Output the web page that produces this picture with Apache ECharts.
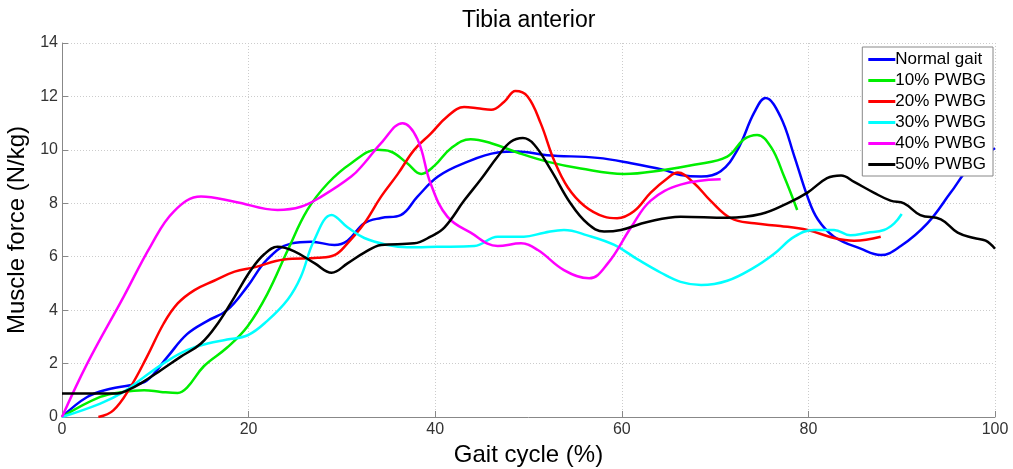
<!DOCTYPE html>
<html>
<head>
<meta charset="utf-8">
<script src="https://cdn.jsdelivr.net/npm/echarts@6/dist/echarts.min.js"></script>
<style>
  html, body { margin: 0; padding: 0; background: #fff; }
  #chart { width: 1013px; height: 469px; }
</style>
</head>
<body>
<div id="chart"></div>
<script>
// series names
const seriesNames = ['Normal gait', '10% PWBG', '20% PWBG', '30% PWBG', '40% PWBG', '50% PWBG']
const seriesColors = ['#0000ff', '#00ee00', '#ff0000', '#00ffff', '#ff00ff', '#000000']

// [gait cycle %, force N/kg]
const normalGait = [[0, 0], [2.7, 0.75], [5.2, 1.06], [7.3, 1.19], [9.1, 1.37], [11.3, 2.25], [13.4, 3.1],
  [15.6, 3.6], [17.7, 4.0], [19.9, 4.9], [22, 5.9], [24.6, 6.5], [26.7, 6.56], [29.2, 6.44], [30.6, 6.6],
  [32.4, 7.25], [34.2, 7.45], [36.3, 7.56], [38.1, 8.25], [40.3, 9.0], [43.1, 9.5], [46.7, 9.9], [48.8, 9.94],
  [52, 9.8], [57.4, 9.7], [61, 9.5], [64.5, 9.25], [66.3, 9.06], [68.5, 9.0], [70.6, 9.2], [72.4, 10],
  [74.2, 11.4], [75.4, 11.94], [77, 11.25], [78.5, 9.75], [79.9, 8.25], [81, 7.4], [82.75, 6.75], [85.6, 6.3],
  [87.75, 6.06], [89.9, 6.4], [92.75, 7.25], [95.25, 8.4], [97.4, 9.4], [100, 10.06]]

const pwbg10 = [[0, 0], [4.1, 0.75], [6.6, 0.94], [8.8, 1.0], [10.6, 0.94], [12.4, 0.9], [13.4, 1.1],
  [15.2, 1.9], [17.7, 2.6], [19.9, 3.4], [22, 4.6], [24.2, 6.25], [26.3, 7.75], [28.5, 8.75], [31, 9.5],
  [33.8, 10.0], [35.2, 9.94], [37, 9.5], [38.5, 9.1], [39.9, 9.4], [41.7, 10.06], [43.8, 10.4], [46, 10.25],
  [48.8, 9.9], [52, 9.56], [55.6, 9.3], [60.25, 9.1], [64.5, 9.25], [67.75, 9.44], [71.3, 9.75], [73.1, 10.4],
  [74.5, 10.56], [76, 10.1], [77.4, 9.0], [78.8, 7.75]]

const pwbg20 = [[3.9, 0], [5.5, 0.25], [7.3, 1.1], [9.1, 2.25], [10.9, 3.5], [12.4, 4.25], [14.2, 4.75],
  [16.3, 5.1], [18.5, 5.44], [20.6, 5.6], [23.8, 5.9], [27.4, 5.96], [29.2, 6.06], [30.6, 6.5], [32.4, 7.25],
  [34.2, 8.25], [36, 9.1], [37.75, 10.0], [39.5, 10.6], [41.3, 11.25], [43.1, 11.6], [44.5, 11.56], [46, 11.5],
  [47.4, 11.8], [48.6, 12.2], [49.9, 12.0], [51.3, 11.0], [52.75, 9.6], [54.2, 8.6], [56, 7.9], [58.1, 7.5],
  [59.5, 7.44], [61.3, 7.7], [63.1, 8.4], [64.9, 8.94], [66, 9.15], [67.75, 8.75], [69.5, 8.1], [71.7, 7.44],
  [74.2, 7.25], [77, 7.15], [79.9, 7.0], [82.75, 6.7], [84.9, 6.6], [87.75, 6.75]]

const pwbg30 = [[0, 0], [4.1, 0.5], [6.6, 0.94], [8.8, 1.5], [11.3, 2.1], [13.4, 2.5], [15.6, 2.75],
  [17.7, 2.9], [19.9, 3.06], [22, 3.6], [24.2, 4.4], [25.6, 5.25], [27, 6.6], [28.9, 7.56], [30.6, 7.1],
  [32.4, 6.7], [34.9, 6.44], [37, 6.35], [40.25, 6.37], [44.2, 6.4], [46.7, 6.75], [49.5, 6.75], [51.7, 6.9],
  [53.8, 7.0], [56.3, 6.8], [59.2, 6.44], [61.7, 5.9], [64.2, 5.4], [66.3, 5.06], [68.5, 4.94], [71.3, 5.1],
  [74.2, 5.6], [76.3, 6.1], [78.5, 6.75], [80.6, 7.0], [82.75, 7.0], [84.5, 6.8], [86.3, 6.9], [88.1, 7.0],
  [89.2, 7.25], [90, 7.6]]

const pwbg40 = [[0, 0], [2.7, 2], [6.6, 4.5], [9.5, 6.4], [12, 7.7], [14.9, 8.25], [18.5, 8.06], [23.1, 7.75],
  [25.6, 7.87], [27.8, 8.25], [31, 9.0], [32.4, 9.5], [34.2, 10.25], [36.5, 11.0], [38.1, 10.4], [39.5, 8.75],
  [41.3, 7.5], [43.8, 6.9], [46.7, 6.4], [49.2, 6.5], [51, 6.25], [53.8, 5.5], [56.5, 5.19], [58.5, 5.75],
  [61, 7.1], [63.1, 8.1], [66.3, 8.7], [70.6, 8.9]]

const pwbg50 = [[0, 0.88], [5.9, 0.88], [7, 1.0], [8.4, 1.25], [10.6, 1.75], [12.7, 2.25], [14.9, 2.75],
  [16.7, 3.5], [18.5, 4.5], [20.25, 5.5], [21.7, 6.1], [23.1, 6.37], [24.9, 6.2], [27.1, 5.75], [28.9, 5.4],
  [30.6, 5.75], [32.4, 6.15], [34.2, 6.44], [37.75, 6.5], [39.5, 6.75], [41, 7.1], [43.1, 8.1], [44.9, 8.9],
  [46.7, 9.75], [48.1, 10.3], [49.4, 10.44], [50.6, 10.2], [52.4, 9.25], [54.5, 8.0], [56.3, 7.25], [58.1, 6.94],
  [59.9, 7.0], [62.75, 7.3], [66.3, 7.5], [71.3, 7.46], [74.9, 7.6], [77.75, 8.0], [79.9, 8.4], [82, 8.94],
  [83.5, 9.04], [84.9, 8.8], [87, 8.4], [88.8, 8.1], [90.25, 8.0], [92, 7.56], [94.2, 7.4], [96, 6.9],
  [97.75, 6.7], [99, 6.6], [100, 6.3]]

const allData = [normalGait, pwbg10, pwbg20, pwbg30, pwbg40, pwbg50]

const font = 'Liberation Sans, Arial, sans-serif'
const chart = echarts.init(document.getElementById('chart'))

chart.setOption({
  backgroundColor: '#fff',
  animation: false,
  title: {
    text: 'Tibia anterior',
    left: 457,
    top: 4,
    textStyle: { fontFamily: font, fontSize: 23, fontWeight: 'normal', color: '#000' }
  },
  legend: {
    data: seriesNames,
    orient: 'vertical',
    right: 20,
    top: 47,
    padding: [4, 7, 3, 6],
    itemGap: 4,
    itemWidth: 27,
    itemHeight: 3,
    icon: 'rect',
    backgroundColor: '#fff',
    borderColor: '#888',
    borderWidth: 1,
    borderRadius: 0,
    textStyle: { fontFamily: font, fontSize: 17, lineHeight: 17, color: '#000', padding: [0, 0, 0, -5] }
  },
  grid: {
    left: 62,
    right: 18,
    top: 43,
    bottom: 52,
    outerBoundsMode: 'none'
  },
  xAxis: {
    type: 'value',
    min: 0,
    max: 100,
    interval: 20,
    name: 'Gait cycle (%)',
    nameLocation: 'middle',
    nameGap: 20,
    nameTextStyle: { fontFamily: font, fontSize: 24, color: '#000' },
    axisLine: { show: true, lineStyle: { color: '#888' } },
    axisTick: { show: true, inside: true, length: 6, lineStyle: { color: '#888' } },
    axisLabel: { fontFamily: font, fontSize: 16, color: '#333', margin: 5 },
    splitLine: { show: true, lineStyle: { color: '#ccc', type: [1, 2] } }
  },
  yAxis: {
    type: 'value',
    min: 0,
    max: 14,
    interval: 2,
    name: 'Muscle force (N/kg)',
    nameLocation: 'middle',
    nameGap: 22,
    nameTextStyle: { fontFamily: font, fontSize: 24, color: '#000' },
    axisLine: { show: true, lineStyle: { color: '#888' } },
    axisTick: { show: true, inside: true, length: 6, lineStyle: { color: '#888' } },
    axisLabel: { fontFamily: font, fontSize: 16, color: '#333', margin: 4 },
    splitLine: { show: true, lineStyle: { color: '#ccc', type: [1, 2] } }
  },
  series: allData.map((d, i) => ({
    name: seriesNames[i],
    type: 'line',
    data: d,
    smooth: 0.4,
    symbol: 'none',
    color: seriesColors[i],
    lineStyle: { width: 2.5, color: seriesColors[i] },
    z: 2 + i
  }))
})
</script>
</body>
</html>
